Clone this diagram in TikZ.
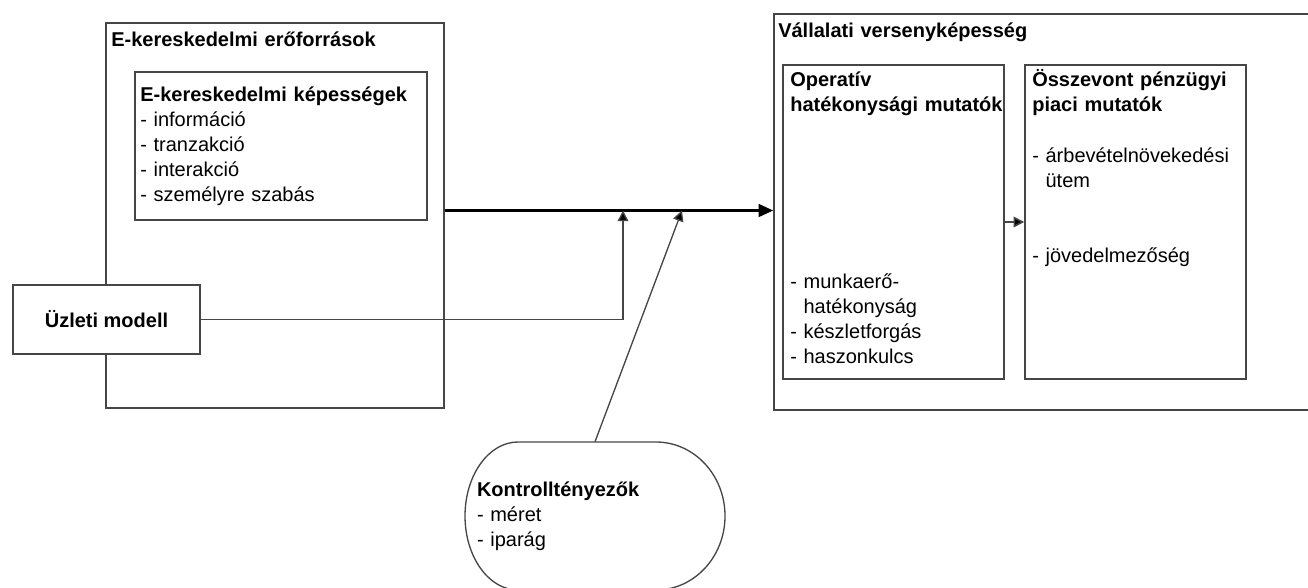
\documentclass[tikz,border=0pt]{standalone}
\usepackage{fontspec}
\setmainfont{Liberation Sans}
\usetikzlibrary{arrows.meta}
\definecolor{linegray}{RGB}{70,70,70}
\tikzset{
  box/.style={draw=linegray, line width=1.1pt, fill=white, inner sep=0pt},
  txt/.style={anchor=base west, inner sep=0pt, text width=260pt, align=left, font=\fontsize{15}{18.75}\selectfont},
  mainarrow/.style={line width=2pt, -{Triangle[length=11pt,width=9.5pt]}},
  thinarrow/.style={draw=linegray, line width=1pt, -{Triangle[length=8pt,width=8pt,fill=black]}}
}
\begin{document}
\begin{tikzpicture}[x=0.75pt,y=0.75pt,yscale=-1,xscale=1]
			\path[use as bounding box, clip] (0,0) rectangle (1308,588);

			%Rect [E-kereskedelmi erőforrások]
			\node[box, minimum width=253.5pt, minimum height=288.75pt] (eres) at (275,215.5) {};
			% Text Node
			\node[txt] (eres title) at (111,46.5) {\textbf{E-kereskedelmi erőforrások}};
			%Rect [képességek]
			\node[box, minimum width=219pt, minimum height=111pt] (kepes) at (281,146) {};
			% Text Node
			\node[txt] (kepes text) at (140,102) {\textbf{E-kereskedelmi képességek}\\- információ\\- tranzakció\\- interakció\\- személyre szabás};
			%Rect [Üzleti modell]
			\node[box, minimum width=140.25pt, minimum height=51.75pt, font=\fontsize{15}{18.75}\selectfont\bfseries] (uzleti) at (106.5,319.5) {Üzleti modell};

			%Rect [Vállalati versenyképesség]
			\node[box, minimum width=417pt, minimum height=297pt] (vk) at (1052,212) {};
			% Text Node
			\node[txt] (vk title) at (778,37.5) {\textbf{Vállalati versenyképesség}};
			%Rect [Operatív]
			\node[box, minimum width=165.75pt, minimum height=235.5pt] (op) at (893.5,222) {};
			% Text Node
			\node[txt] (op title) at (790,87) {\textbf{Operatív}\\\textbf{hatékonysági mutatók}};
			% Text Node
			\node[txt] (op list) at (790,288) {- munkaerő-\\\phantom{- }hatékonyság\\- készletforgás\\- haszonkulcs};
			%Rect [Összevont]
			\node[box, minimum width=165.75pt, minimum height=235.5pt] (osz) at (1135.5,222) {};
			% Text Node
			\node[txt] (osz title) at (1032,87) {\textbf{Összevont pénzügyi}\\\textbf{piaci mutatók}};
			% Text Node
			\node[txt] (osz list) at (1032,162) {- árbevételnövekedési\\\phantom{- }ütem\\[37.5pt]- jövedelmezőség};

			%Rounded Rect [Kontrolltényezők]
			\draw[draw=linegray, line width=1pt] (518,442) -- (656,442) arc[start angle=-90, end angle=90, x radius=69, y radius=74] -- (518,590) arc[start angle=90, end angle=270, x radius=53, y radius=74] -- cycle;
			% Text Node
			\node[txt, anchor=center, text width=177pt, minimum height=111pt] (kontroll) at (595,516) {\textbf{Kontrolltényezők}\\- méret\\- iparág};

			%Straight Lines
			\coordinate (j1) at (623,210.5);
			\coordinate (j2) at (682,210.5);
			\draw[mainarrow] (eres.east |- j1) -- (vk.west |- j1);
			\draw[thinarrow] (uzleti.east) -| (j1);
			\draw[thinarrow] (kontroll.north) -- (j2);
			\draw[thinarrow, line width=1.2pt] (op.east) -- (osz.west);

		\end{tikzpicture}
\end{document}
